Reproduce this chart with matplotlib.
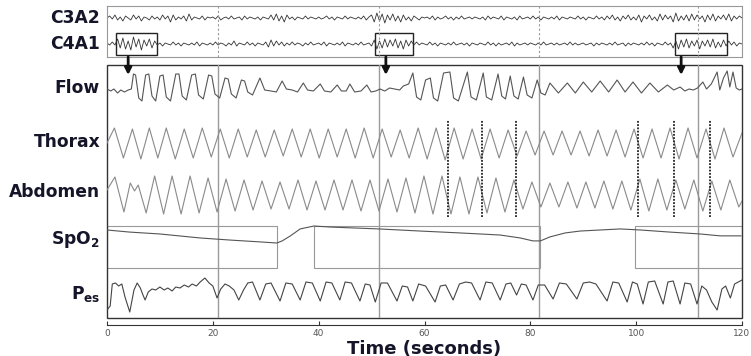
import matplotlib
matplotlib.use('Agg')
import matplotlib.pyplot as plt
import numpy as np

# ---------------------------------------------------------------
# data (time in seconds)
# ---------------------------------------------------------------
c3a2 = [0, 2, -1, 3, -2, 1, -3, 2, 0, -2, 3, -1, 2, -3, 1, 0, -2, 2, -1, 1,
        -2, 3, -1, 2, -4, 3, -2, 1, -1, 2, -3, 4, -2, 1, 0, -1, 2, -2, 1, 0,
        1, -1, 2, -2, 0, 1, -1, 2, -1, 0, 1, -2, 2, -1, 1, 0, -1, 1, -2, 1,
        0, -1, 3, -2, 4, -3, 2, -4, 3, -1, 1, -2, 1, 0, -1, 2, -1, 1, 0, -1,
        1, -1, 0, 2, -1, 1, -2, 1, 0, -1, 2, -1, 1, 0, -1, 1, -1, 2, -2, 1,
        3, -4, 5, -3, 4, -5, 3, -2, 4, -3, 2, -4, 3, -2, 1, -3, 2, 0, -2, 1,
        0, 1, -1, 2, -2, 1, -1, 0, 2, -1, 1, -2, 1, -1, 2, -1, 0, 1, -1, 1,
        0, -1, 1, -2, 2, -1, 1, 0, -1, 2, -2, 1, 0, -1, 1, -2, 2, -1, 0, 1,
        -1, 2, -1, 1, -2, 1, 0, -1, 1, -1, 2, -2, 1, 0, -1, 1, 0, -1, 2, -1,
        1, -2, 1, 0, -1, 2, -1, 1, -2, 2, -1, 3, -2, 1, -3, 2, -1, 3, -2, 1,
        -2, 3, -4, 2, -1, 3, -2, 1, -3, 4, -2, 3, -1, 2, -4, 5, -3, 2, -2, 3,
        -3, 4, -2, 3, -1, 2, -4, 3, -2, 4, -3, 2, -1, 3, -2, 4, -3, 2, -1, 2, 0]

c4a1 = [1, -1, 2, -1, 5, -4, 6, -5, 3, -6, 7, -3, 5, -6, 4, -2, 5, -4, 3, -1,
        1, -2, 1, 0, -1, 2, -1, 1, -2, 1, 0, -1, 1, -1, 2, -2, 1, 0, -1, 1,
        -1, 2, -1, 1, 0, -2, 1, -1, 3, -2, 1, 0, -1, 2, -1, 1, -2, 1, 0, -1,
        2, -3, 4, -2, 3, -1, 2, -2, 1, -1, 2, -1, 1, 0, -2, 1, -1, 2, -1, 0,
        1, -1, 2, -2, 1, 0, -1, 1, -1, 2, -2, 1, 0, -1, 1, -1, 2, -1, 0, 1,
        -2, 4, -5, 3, -4, 5, -3, 4, -2, 5, -4, 3, -5, 4, -2, 3, -1, 2, -1, 1,
        0, -1, 2, -1, 1, -2, 1, 0, -1, 1, -1, 2, -1, 0, 1, -1, 1, -2, 1, 0,
        -1, 1, 0, -1, 2, -1, 1, -2, 1, -1, 0, 1, -1, 2, -2, 1, -1, 0, 1, -1,
        1, 0, -1, 1, -1, 2, -1, 0, 1, -1, 1, -1, 0, 1, -1, 2, -1, 1, -1, 0,
        1, -1, 0, 1, -2, 1, -1, 1, 0, -1, 1, -1, 2, -1, 0, 1, -2, 1, -1, 1,
        0, -1, 1, -1, 2, -1, 1, -2, 1, 0, -1, 2, -1, 1, -4, 3, -5, 4, -3, 5,
        -4, 3, -2, 4, -5, 3, -2, 4, -3, 5, -4, 2, -3, 4, -2, 3, -1, 2, -2, 1, 0]

flow = [(0.0, 3), (0.7, 1), (1.3, 3), (2.0, -1), (2.6, 2), (3.3, 0), (4.0, 2), (4.6, 3),
        (5.0, 18), (5.4, 17), (6.0, -6), (6.6, -9), (7.3, 17), (7.9, 18), (8.5, -4), (9.2, -9),
        (10.0, 16), (10.6, 17), (11.2, -5), (12.0, -9), (13.0, 18), (13.6, 18), (14.2, -4),
        (15.0, -8), (16.0, 17), (16.7, 18), (17.3, -3), (18.2, -7), (19.2, 17), (19.8, 16),
        (20.4, -2), (21.3, -6), (22.3, 14), (22.9, 13), (23.5, -2), (24.4, -6), (25.4, 12),
        (26.0, 11), (26.6, 0), (27.5, -3), (28.9, 14), (29.8, 2), (31.0, 1), (32.0, 0),
        (33.1, 11), (33.9, 3), (35.0, 2), (36.0, 0), (37.1, 9), (37.9, 2), (39.0, 1),
        (40.3, 8), (41.1, 1), (42.3, 0), (43.5, 7), (44.3, 1), (45.2, 1), (45.9, 8),
        (46.8, 0), (48.0, 1), (49.1, 7), (49.9, 0), (50.8, 1), (51.6, 3), (52.5, 1),
        (53.4, 4), (54.4, 3), (55.3, 2), (56.0, 6), (57.0, 8), (57.8, 19), (58.5, -5),
        (59.3, -8), (60.2, 12), (61.1, 14), (61.7, -6), (62.5, -9), (63.6, 19), (64.8, 20),
        (65.5, -6), (66.4, -9), (68.1, 20), (68.8, -5), (69.8, -8), (71.1, 19), (71.7, -5),
        (72.7, -8), (73.9, 18), (74.6, -4), (75.3, -7), (76.2, 16), (76.9, -4), (77.7, -7),
        (78.7, 15), (79.4, -3), (80.3, -6), (81.3, 12), (82.0, -1), (82.8, -3), (83.7, 9),
        (85.3, -1), (87.0, 9), (88.5, -1), (90.0, 10), (91.6, 0), (93.2, 11), (94.8, 0),
        (96.4, 12), (97.9, 0), (99.4, 10), (101.0, -1), (102.6, 9), (104.2, 0), (105.9, 7),
        (107.1, 2), (108.3, 5), (109.2, 1), (110.0, 3), (110.8, 2), (111.6, 4), (112.6, 10),
        (113.3, 3), (114.2, 8), (115.3, 20), (115.8, 2), (116.5, 14), (117.2, 21), (117.7, 5),
        (118.3, 20), (118.9, 4), (119.5, 2), (120.0, 3)]

thorax = [(0.0, 0), (1.4, 15), (3.1, -15), (4.8, 14), (6.4, -16), (8.0, 15), (9.6, -15),
          (11.2, 15), (12.9, -16), (14.6, 14), (16.3, -15), (18.0, 15), (19.7, -14), (21.4, 14),
          (23.1, -15), (24.8, 14), (26.5, -14), (28.2, 13), (29.9, -14), (31.6, 13), (33.3, -13),
          (35.0, 14), (36.7, -14), (38.4, 14), (40.1, -15), (41.8, 14), (43.5, -14), (45.2, 14),
          (46.9, -15), (48.6, 15), (50.3, -15), (52.0, 14), (53.7, -14), (55.4, 13), (57.1, -15),
          (58.8, 15), (60.5, -16), (62.2, 15), (63.9, -17), (65.6, 15), (67.3, -16), (69.0, 14),
          (70.7, -16), (72.4, 14), (74.1, -15), (75.8, 13), (77.5, -13), (79.2, 12), (80.9, -12),
          (82.6, 12), (84.3, -12), (86.0, 12), (87.7, -12), (89.4, 12), (91.1, -13), (92.8, 13),
          (94.5, -13), (96.2, 13), (97.9, -14), (99.6, 14), (101.3, -15), (103.0, 14), (104.7, -15),
          (106.4, 15), (108.1, -16), (109.8, 15), (111.5, -15), (113.2, 14), (114.9, -16),
          (116.6, 15), (118.3, -14), (120.0, 10)]

abdomen = [(0.0, 5), (1.5, 18), (3.2, -17), (4.4, 12), (5.2, 4), (5.9, 10), (7.4, -18),
           (9.0, 19), (10.7, -19), (12.3, 19), (14.0, -19), (15.7, 19), (17.4, -18), (19.1, 17),
           (20.8, -17), (22.5, 16), (24.2, -16), (25.9, 15), (27.6, -15), (29.3, 14), (31.0, -14),
           (32.7, 13), (34.4, -14), (36.1, 15), (37.8, -15), (39.5, 14), (41.2, -15), (42.9, 15),
           (44.6, -15), (46.3, 15), (48.0, -16), (49.7, 15), (51.4, -16), (53.1, 16), (54.8, -17),
           (56.5, 17), (58.2, -18), (59.9, 19), (61.6, -19), (63.3, 19), (65.0, -19), (66.7, 18),
           (68.4, -19), (70.1, 18), (71.8, -18), (73.5, 17), (75.2, -17), (76.9, 15), (78.6, -14),
           (80.3, 13), (82.0, -12), (83.7, 12), (85.4, -12), (87.1, 13), (88.8, -13), (90.5, 13),
           (92.2, -13), (93.9, 14), (95.6, -14), (97.3, 14), (99.0, -15), (100.7, 16), (102.4, -16),
           (104.1, 16), (105.8, -15), (107.5, 15), (109.2, -14), (110.9, 15), (112.6, -16),
           (114.3, 14), (116.0, -15), (117.7, 15), (119.4, -12), (120.0, -6)]

spo2 = [(0.0, 97.1), (4.3, 96.1), (10.0, 95.2), (17.6, 93.3), (23.3, 92.3), (29.1, 91.4),
        (32.1, 90.9), (33.1, 91.9), (34.6, 94.2), (36.5, 97.6), (39.1, 99.0), (42.2, 98.5),
        (51.4, 97.6), (59.2, 96.6), (66.7, 95.7), (74.3, 94.7), (78.1, 93.3), (80.5, 91.9),
        (81.9, 91.9), (83.7, 93.8), (86.6, 95.7), (89.4, 96.6), (97.0, 97.6), (100.8, 97.1),
        (106.4, 96.1), (112.1, 95.2), (115.9, 94.3), (119.8, 94.3)]

pes = [(0.0, -18), (0.6, -14), (1.0, 8), (1.6, 9), (2.2, 6), (2.8, 8), (3.4, -5), (4.3, -20),
       (5.1, 2), (5.7, 9), (6.3, 4), (6.8, -3), (7.2, -8), (7.8, 0), (8.5, 3), (9.2, 2), (10.0, 5),
       (10.8, 2), (11.5, 4), (12.3, 1), (13.0, 5), (13.8, 4), (14.6, 7), (15.4, 5), (16.1, 8),
       (16.9, 6), (17.6, 10), (18.5, 14), (19.3, 9), (20.0, 6), (20.8, -6), (21.5, 3), (22.3, 8),
       (23.1, 6), (24.0, 2), (24.9, -8), (25.8, 2), (26.6, 9), (27.5, 10), (28.9, -8), (30.0, 8),
       (31.0, 9), (32.7, -9), (33.8, 9), (35.0, 8), (36.5, -8), (37.6, 10), (38.8, 9), (40.3, -9),
       (41.4, 10), (42.5, 9), (44.0, -8), (45.0, 10), (46.2, 9), (47.8, -9), (48.8, 8), (49.7, 7),
       (50.7, -10), (51.8, 9), (53.0, 9), (54.8, -9), (55.8, 6), (56.8, 5), (57.8, -9), (58.9, 8),
       (60.2, 6), (62.0, -10), (63.0, 6), (64.0, 7), (65.4, -8), (66.6, 8), (67.8, 10), (68.9, 9),
       (70.5, -8), (71.6, 10), (72.8, 9), (74.3, -8), (75.4, 8), (76.3, 9), (77.4, -3), (78.3, 8),
       (79.2, 7), (80.5, -8), (81.5, 7), (82.7, 7), (84.3, -7), (85.5, 9), (86.8, 8), (88.8, -7),
       (90.0, 9), (91.2, 10), (92.4, 8), (94.5, -9), (95.6, 10), (96.7, 9), (98.3, -10), (99.3, 10),
       (100.2, 8), (101.3, -12), (102.3, 10), (103.5, 11), (105.1, -12), (106.0, 10), (107.0, 11),
       (108.3, -12), (109.2, 9), (110.3, 8), (111.5, -12), (112.4, 6), (113.3, 2), (114.3, -10),
       (115.3, -18), (116.2, 3), (116.9, 6), (117.8, -6), (118.6, 8), (119.3, 10), (120.0, 12)]

epochLines = [21.0, 51.4, 81.6, 111.7]
effortMarks = [64.5, 70.9, 77.3, 100.4, 107.2, 114.0]
spo2Boxes = [(0.0, 32.1), (39.1, 81.9), (99.8, 120.0)]
arousalBoxes = [(1.7, 9.45), (50.7, 57.8), (107.4, 117.2)]
arrowTimes = [4.0, 52.7, 108.5]
xTicks = [0, 20, 40, 60, 80, 100, 120]

# ---------------------------------------------------------------
W, H = 751., 356.
fig = plt.figure(figsize=(W / 100, H / 100), dpi=100)
plt.rcParams['mathtext.fontset'] = 'dejavusans'
labelFont = dict(fontsize=12.3, fontweight='bold', color='#15152a', family='DejaVu Sans',
                 ha='right', va='center')


def px(x0, y0, x1, y1):
    return [x0 / W, 1 - y1 / H, (x1 - x0) / W, (y1 - y0) / H]


#############################################################
# EEG strip
#############################################################
axE = fig.add_axes(px(107, 6, 742, 57))
axE.set_xlim(0, 120)
axE.set_ylim(0, 51)
tE = np.linspace(0, 120, len(c3a2))
axE.plot(tE, 39 + np.array(c3a2), c='#333333', lw=0.6)
axE.plot(tE, 13 + np.array(c4a1), c='#333333', lw=0.6)
for t in epochLines:
    axE.axvline(t, c='#999999', lw=0.8, ls=(0, (2, 2)))
for a, b in arousalBoxes:
    axE.add_patch(plt.Rectangle((a, 2), b - a, 22, fill=False, ec='#222222', lw=1.0))
axE.set_xticks([])
axE.set_yticks([])
for s in axE.spines.values():
    s.set_color('#999999')
    s.set_linewidth(0.8)

#############################################################
# main panel, y in pixel-like units counted from the bottom edge
#############################################################
ax = fig.add_axes(px(107, 65, 742, 318))
ax.set_xlim(0, 120)
ax.set_ylim(0, 253)

for t in epochLines:
    ax.axvline(t, c='#9a9a9a', lw=1.0)

ft, fv = zip(*flow)
ax.plot(ft, 226 + np.array(fv), c='#555555', lw=0.8)
tt, tv = zip(*thorax)
ax.plot(tt, 175 + np.array(tv), c='#8a8a8a', lw=0.8)
at, av = zip(*abdomen)
ax.plot(at, 123 + np.array(av), c='#8a8a8a', lw=0.8)

for a, b in spo2Boxes:
    ax.add_patch(plt.Rectangle((a, 50), b - a, 42, fill=False, ec='#999999', lw=0.8))
st, sv = zip(*spo2)
ax.plot(st, 92 - (99 - np.array(sv)) * 2.1, c='#555555', lw=0.8)

pt, pv = zip(*pes)
ax.plot(pt, 26 + np.array(pv), c='#444444', lw=0.8)

for t in effortMarks:
    ax.plot([t, t], [101, 198], c='#222222', lw=1.3, ls=(0, (1, 0.8)))

for t in arrowTimes:
    ax.annotate('', xy=(t, 243), xytext=(t, 261), annotation_clip=False,
                arrowprops=dict(arrowstyle='-|>', lw=2, color='#111111', mutation_scale=10,
                                shrinkA=0, shrinkB=0))

# box round the panel, separate x axis a few pixels below
ax.add_patch(plt.Rectangle((0, 0), 1, 1, transform=ax.transAxes, fill=False,
                           ec='#333333', lw=1.0, clip_on=False))
for side in ['left', 'right', 'top']:
    ax.spines[side].set_visible(False)
ax.spines['bottom'].set_position(('outward', 5))
ax.spines['bottom'].set_color('#333333')
ax.set_yticks([])
ax.set_xticks(xTicks)
ax.tick_params(axis='x', direction='in', length=3, labelsize=6.5, labelcolor='#555555',
               color='#333333', pad=3)
ax.set_xlabel('Time (seconds)', fontsize=13, fontweight='bold', color='#15152a', labelpad=1)

#############################################################
# channel names
#############################################################
labels = [('C3A2', 18), ('C4A1', 44), ('Flow', 88), ('Thorax', 142), ('Abdomen', 192),
          (r'$\mathbf{SpO_2}$', 240), (r'$\mathbf{P_{es}}$', 294)]
for name, y in labels:
    fig.text(100 / W, 1 - y / H, name, **labelFont)

fig.savefig('out.png', dpi=100)
